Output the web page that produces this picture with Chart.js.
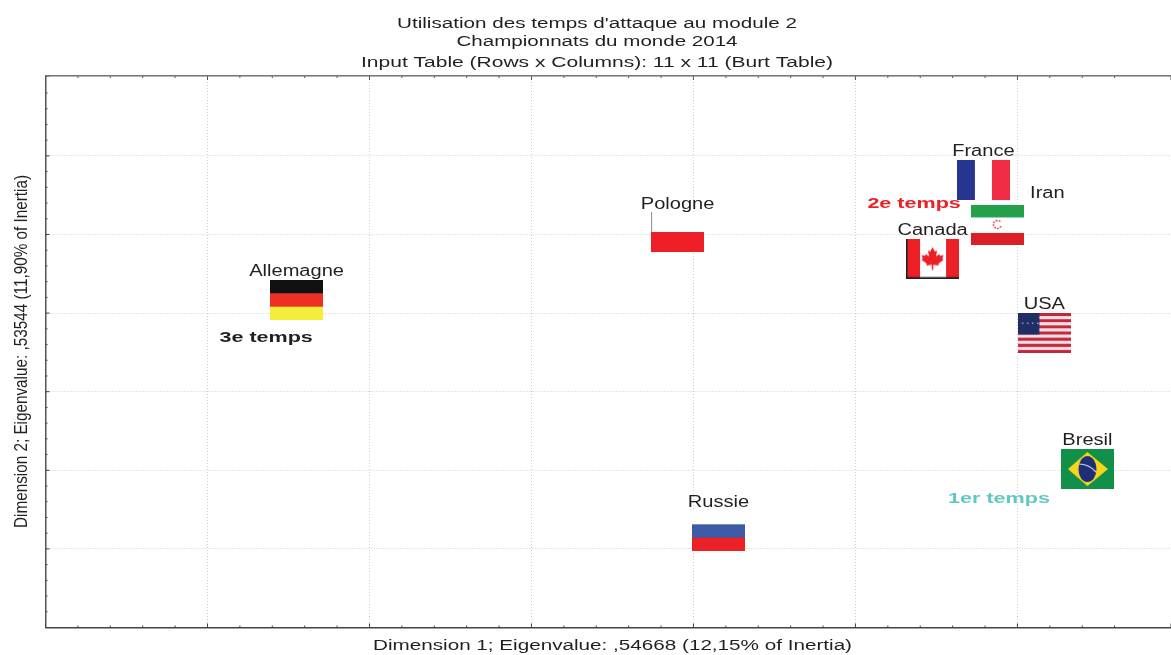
<!DOCTYPE html>
<html><head><meta charset="utf-8">
<style>html,body{margin:0;padding:0;background:#fff}canvas{display:block}</style>
<script src="https://cdn.jsdelivr.net/npm/chart.js@4"></script>
</head><body><canvas id="c" width="1171" height="655"></canvas>
<script>
const titleLines = ["Utilisation des temps d'attaque au module 2","Championnats du monde 2014","Input Table (Rows x Columns): 11 x 11 (Burt Table)"];
const xTitle = "Dimension 1; Eigenvalue: ,54668 (12,15% of Inertia)";
const yTitle = "Dimension 2; Eigenvalue: ,53544 (11,90% of Inertia)";
const countries = ["Allemagne","Pologne","Russie","France","Iran","Canada","USA","Bresil"];
const dim1 = [-0.725,0.451,0.577,1.395,1.438,1.238,1.583,1.716];
const dim2 = [0.583,1.016,-0.886,1.347,1.061,0.847,0.373,-0.492];
const tempsLabels = ["3e temps","2e temps","1er temps"];
const tempsDim1 = [-0.819,1.181,1.443];
const tempsDim2 = [0.345,1.197,-0.679];

const tempsColors = ["#231f20","#ee2027","#63c7c4"];
const labelOffsets = {Iran:[50,-31], Pologne:[0,-27]};
const FW=53, FH=40;
function flag(draw){const c=document.createElement('canvas');c.width=FW;c.height=FH;const g=c.getContext('2d');draw(g);return c;}
function hbands(g,cols){const h=FH/cols.length;cols.forEach((k,i)=>{g.fillStyle=k;g.fillRect(0,i*h,FW,h+.5);});}
function maple(g,cx,cy,s){
  const p=[[0,-10],[2,-6],[4,-7],[3,-2],[6,-4],[6.5,-2.5],[9.5,-3],[8.5,0],[9.5,1],[5,4.5],[5.5,6],[.6,5.5],[.6,10],[-.6,10],[-.6,5.5],[-5.5,6],[-5,4.5],[-9.5,1],[-8.5,0],[-9.5,-3],[-6.5,-2.5],[-6,-4],[-3,-2],[-4,-7],[-2,-6]];
  g.beginPath();p.forEach(([x,y],i)=>{const X=cx+x*s,Y=cy+y*s;i?g.lineTo(X,Y):g.moveTo(X,Y);});g.closePath();g.fill();
}
const flags = {
  Allemagne:flag(g=>hbands(g,["#111111","#ee2f24","#f2ee3a"])),
  Pologne:flag(g=>{g.fillStyle="#fff";g.fillRect(0,0,FW,20);g.fillStyle="#999";g.fillRect(0,0,1,20);g.fillStyle="#ee2027";g.fillRect(0,20,FW,20);}),
  Russie:flag(g=>hbands(g,["#ffffff","#3c5aa6","#ee2027"])),
  France:flag(g=>{g.fillStyle="#26358f";g.fillRect(0,0,18,FH);g.fillStyle="#fff";g.fillRect(18,0,17,FH);g.fillStyle="#ef2b45";g.fillRect(35,0,18,FH);}),
  Iran:flag(g=>{g.fillStyle="#fff";g.fillRect(0,0,FW,FH);g.fillStyle="#23a04a";g.fillRect(0,0,FW,12.5);g.fillStyle="#dc1f26";g.fillRect(0,28,FW,12);g.strokeStyle="#e2606a";g.lineWidth=1.6;g.setLineDash([2,1]);g.beginPath();g.arc(26.5,19.5,4,0.4,5.6);g.stroke();}),
  Canada:flag(g=>{g.fillStyle="#ee2027";g.fillRect(0,0,FW,FH);g.fillStyle="#fff";g.fillRect(14,0,26,FH);g.fillStyle="#ee2027";maple(g,26.5,20,1.15);g.fillStyle="#231f20";g.fillRect(0,0,1.5,FH);g.fillRect(0,FH-1.5,FW,1.5);}),
  USA:flag(g=>{for(let i=0;i<13;i++){g.fillStyle=i%2?"#f6dfe2":"#c1273f";g.fillRect(0,i*FH/13,FW,FH/13+.3);}
    g.fillStyle="#1f2f66";g.fillRect(0,0,21.5,21.5);g.fillStyle="#8fa0cc";[4,9,14,19].forEach(x=>g.fillRect(x,9.5,1.5,1.5));}),
  Bresil:flag(g=>{g.fillStyle="#12904a";g.fillRect(0,0,FW,FH);g.fillStyle="#f6d51c";g.beginPath();g.moveTo(26.5,3);g.lineTo(47,20);g.lineTo(26.5,37);g.lineTo(7,20);g.closePath();g.fill();
    g.fillStyle="#1c2f78";g.beginPath();g.ellipse(26.5,20,9,13,0,0,7);g.fill();g.strokeStyle="#d8dde8";g.lineWidth=1.2;g.beginPath();g.moveTo(18,15);g.quadraticCurveTo(28,15,35,23);g.stroke();})
};

const isMajor = v => Math.abs(Math.round(v*10)%5)===0;
function stretched(ctx,text,cx,cy,font,color,opt){
  ctx.save();ctx.font=font;ctx.fillStyle=color;ctx.textAlign='center';ctx.textBaseline='middle';
  ctx.translate(cx,cy);if(opt.rot)ctx.rotate(opt.rot);
  const sx=opt.sx||(opt.width/ctx.measureText(text).width);
  ctx.scale(sx,1);ctx.fillText(text,0,0);ctx.restore();
}
const FONT="Liberation Sans, Arial, sans-serif";
const furniture={id:'furniture',
  afterDatasetsDraw(chart){
    const {ctx,chartArea:a,scales:{x,y}}=chart;
    ctx.save();ctx.fillStyle="#444";
    x.ticks.forEach(t=>{const p=x.getPixelForValue(t.value),l=isMajor(t.value)?4:2;
      ctx.fillRect(p-.5,a.bottom-l,1,l);ctx.fillStyle="#555";ctx.fillRect(p-.5,a.top,1,l);ctx.fillStyle="#444";});
    y.ticks.forEach(t=>{const p=y.getPixelForValue(t.value),l=isMajor(t.value)?4:2;ctx.fillRect(a.left,p-.5,l,1);});
    ctx.fillStyle="#777";ctx.fillRect(a.left,a.top-1,a.right-a.left,1.5);
    ctx.restore();
    const d0=chart.getDatasetMeta(0).data;
    countries.forEach((n,i)=>{const o=labelOffsets[n]||[0,-28];
      stretched(ctx,n,d0[i].x+o[0],d0[i].y+o[1],"16px "+FONT,"#231f20",{sx:1.255});});
    const d1=chart.getDatasetMeta(1).data;
    tempsLabels.forEach((n,i)=>stretched(ctx,n,d1[i].x,d1[i].y,"bold 15.5px "+FONT,tempsColors[i],{sx:1.39}));
    const c="#231f20",f="15.5px "+FONT;
    stretched(ctx,titleLines[0],597,23.5,f,c,{width:400});
    stretched(ctx,titleLines[1],597,41.5,f,c,{width:281});
    stretched(ctx,titleLines[2],597,62.5,f,c,{width:472});
    stretched(ctx,xTitle,612.5,646,f,c,{width:479});
    stretched(ctx,yTitle,22,351.5,"18px "+FONT,c,{width:353,rot:-Math.PI/2});
  }};
const gridFor=()=>({
  color:c=>isMajor(c.tick.value)?"#cccccc":"rgba(0,0,0,0)",
  lineWidth:1,drawTicks:false});
new Chart(document.getElementById('c'),{
  type:'scatter',
  data:{datasets:[
    {label:'Pays',data:countries.map((n,i)=>({x:dim1[i],y:dim2[i]})),pointStyle:countries.map(n=>flags[n]),pointRadius:20,clip:false},
    {label:'Temps',data:tempsLabels.map((n,i)=>({x:tempsDim1[i],y:tempsDim2[i]})),pointRadius:0,clip:false}
  ]},
  options:{responsive:false,animation:false,
    layout:{autoPadding:false,padding:{left:45.5,top:76,right:0,bottom:27.5}},
    plugins:{legend:{display:false},tooltip:{enabled:false},title:{display:false}},
    scales:{
      x:{type:'linear',min:-1.5,max:1.974,grid:gridFor(),border:{display:true,color:"#444",width:1.5,dash:[1,2]},
        ticks:{display:false,stepSize:0.1,autoSkip:false,maxTicksLimit:100}},
      y:{type:'linear',min:-1.5,max:2.008,grid:gridFor(),border:{display:true,color:"#555",width:1.5,dash:[1,2]},
        ticks:{display:false,stepSize:0.1,autoSkip:false,maxTicksLimit:100}}
    }},
  plugins:[furniture]
});
</script></body></html>
